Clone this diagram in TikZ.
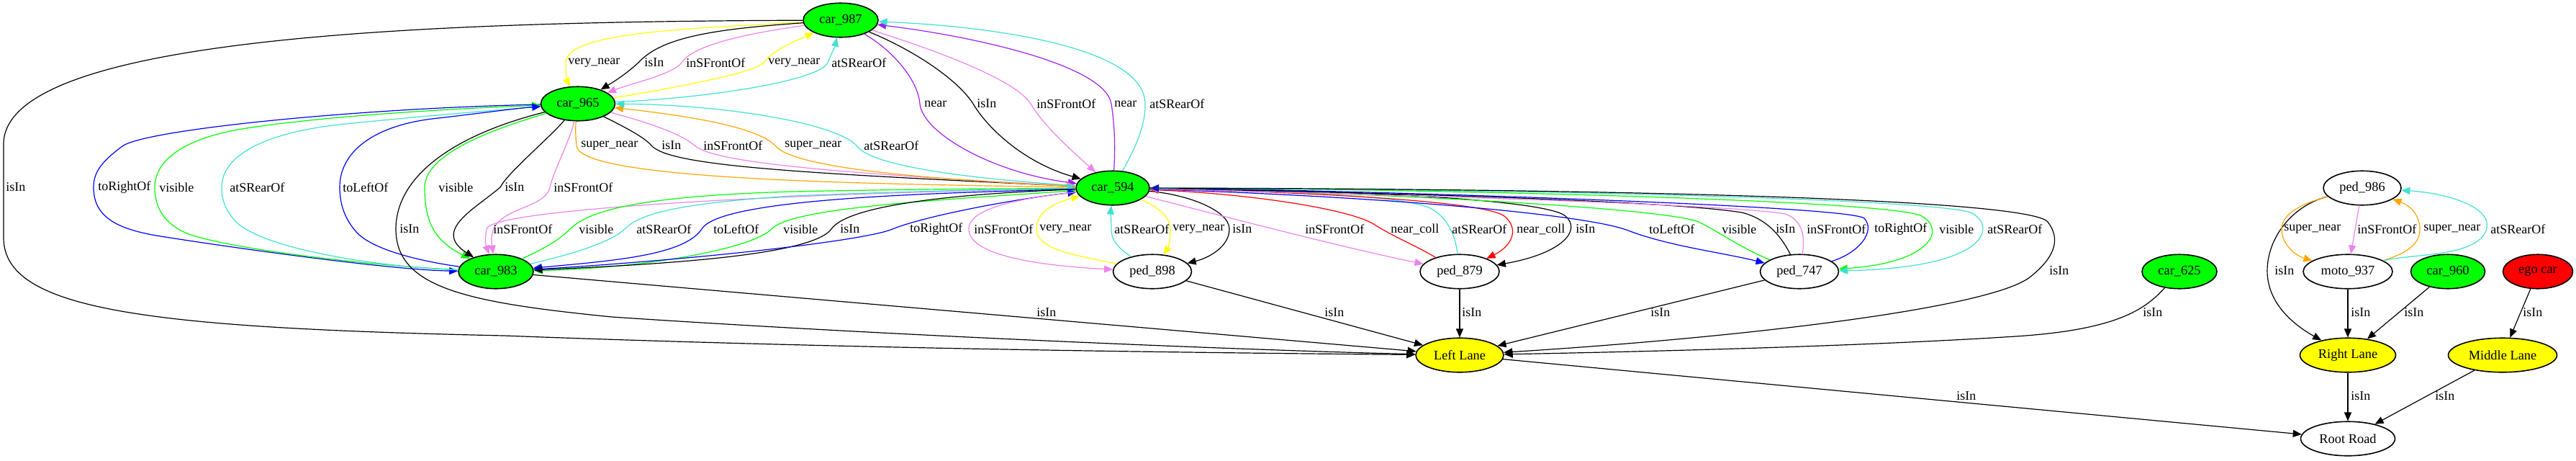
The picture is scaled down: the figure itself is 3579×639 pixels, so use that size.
\documentclass[tikz,border=0pt]{standalone}
\usepackage{fontspec}
\setmainfont{Liberation Serif}
\usetikzlibrary{shapes.geometric,arrows.meta}
\definecolor{gvgreen}{HTML}{00FF00}
\definecolor{gvyellow}{HTML}{FFFF00}
\definecolor{gvred}{HTML}{FF0000}
\definecolor{gvviolet}{HTML}{EE82EE}
\definecolor{gvpurple}{HTML}{A020F0}
\definecolor{gvturq}{HTML}{40E0D0}
\definecolor{gvorange}{HTML}{FFA500}
\definecolor{gvblue}{HTML}{0000FF}
\begin{document}
\begin{tikzpicture}[x=0.5pt,y=-0.5pt,
  nd/.style={ellipse,draw,line width=0.8pt,inner sep=0pt,minimum height=23.75pt,font=\fontsize{9.2}{10}\selectfont},
  lbl/.style={anchor=west,inner sep=0pt,font=\fontsize{9}{10}\selectfont},
  e/.style={line width=0.6pt,-{Triangle[length=6pt,width=5pt]}}]
\useasboundingbox (0,0) rectangle (3579,639);
% nodes
\node[nd,fill=gvgreen,minimum width=52pt] (c987) at (1168,28) {car\_987};
\node[nd,fill=gvgreen,minimum width=51.5pt] (c965) at (803,144) {car\_965};
\node[nd,fill=gvgreen,minimum width=52pt] (c983) at (689,377) {car\_983};
\node[nd,fill=gvgreen,minimum width=51pt] (c594) at (1546,261) {car\_594};
\node[nd,minimum width=54.5pt] (p898) at (1601,377) {ped\_898};
\node[nd,minimum width=55pt] (p879) at (2028,377) {ped\_879};
\node[nd,minimum width=54.5pt] (p747) at (2500,377) {ped\_747};
\node[nd,fill=gvyellow,minimum width=61pt] (LL) at (2028,493) {Left Lane};
\node[nd,fill=gvgreen,minimum width=52pt] (c625) at (3028,377) {car\_625};
\node[nd,minimum width=54pt] (p986) at (3282,261) {ped\_986};
\node[nd,minimum width=62pt] (m937) at (3262,377) {moto\_937};
\node[nd,fill=gvgreen,minimum width=51.5pt] (c960) at (3401,377) {car\_960};
\node[nd,fill=gvred,minimum width=48.5pt] (ego) at (3526,377) {ego car};
\node[nd,fill=gvyellow,minimum width=66.5pt] (RL) at (3262,493) {Right Lane};
\node[nd,fill=gvyellow,minimum width=75.5pt] (ML) at (3477,493) {Middle Lane};
\node[nd,minimum width=65.5pt] (RR) at (3262,609) {Root Road};
% row 87
\draw[e,gvyellow] (c987) .. controls (950,40) and (786,45) .. (786,87) .. controls (786,100) and (787,110) .. (c965);
\draw[e] (c987) .. controls (1000,40) and (920,50) .. (887,87) .. controls (865,107) and (845,118) .. (c965);
\draw[e,gvviolet] (c987) .. controls (1050,45) and (965,60) .. (947,87) .. controls (935,103) and (880,115) .. (c965);
\draw[e,gvyellow] (c965) .. controls (950,120) and (1050,100) .. (1061,87) .. controls (1075,68) and (1110,55) .. (c987);
\draw[e,gvturq] (c965) .. controls (1000,135) and (1140,110) .. (1150,87) .. controls (1155,75) and (1160,65) .. (c987);
\node[lbl] (l1) at (789,87) {very\_near};
\node[lbl] (l2) at (895,87) {isIn};
\node[lbl] (l3) at (953,87) {inSFrontOf};
\node[lbl] (l4) at (1067,87) {very\_near};
\node[lbl] (l5) at (1155,87) {atSRearOf};
% row 144
\draw[e,gvpurple] (c987) .. controls (1240,70) and (1275,110) .. (1278,144) .. controls (1282,185) and (1380,240) .. (c594);
\draw[e] (c987) .. controls (1270,70) and (1330,110) .. (1352,144) .. controls (1370,175) and (1420,225) .. (c594);
\draw[e,gvviolet] (c987) .. controls (1300,70) and (1410,110) .. (1432,144) .. controls (1450,175) and (1490,210) .. (c594);
\draw[e,gvpurple] (c594) .. controls (1550,200) and (1548,170) .. (1544,144) .. controls (1535,90) and (1350,50) .. (c987);
\draw[e,gvturq] (c594) .. controls (1575,210) and (1592,175) .. (1591,144) .. controls (1590,60) and (1350,35) .. (c987);
\node[lbl] (l6) at (1284,144) {near};
\node[lbl] (l7) at (1357,144) {isIn};
\node[lbl] (l8) at (1440,144) {inSFrontOf};
\node[lbl] (l9) at (1548,144) {near};
\node[lbl] (l10) at (1597,144) {atSRearOf};
% row 202
\draw[e,gvorange] (c965) .. controls (799,180) and (800,190) .. (801,202) .. controls (803,250) and (1200,255) .. (c594);
\draw[e] (c965) .. controls (865,175) and (895,190) .. (905,202) .. controls (930,230) and (1100,240) .. (c594);
\draw[e,gvviolet] (c965) .. controls (900,170) and (945,185) .. (965,202) .. controls (990,225) and (1150,240) .. (c594);
\draw[e,gvorange] (c594) .. controls (1200,245) and (1095,225) .. (1077,202) .. controls (1050,175) and (950,160) .. (c965);
\draw[e,gvturq] (c594) .. controls (1300,245) and (1205,225) .. (1190,202) .. controls (1160,170) and (1000,145) .. (c965);
\node[lbl] (l11) at (807,202) {super\_near};
\node[lbl] (l12) at (919,202) {isIn};
\node[lbl] (l13) at (977,202) {inSFrontOf};
\node[lbl] (l14) at (1090,202) {super\_near};
\node[lbl] (l15) at (1200,202) {atSRearOf};
% row 260
\draw[e] (c987) .. controls (600,30) and (5,50) .. (5,200) -- (5,330) .. controls (5,430) and (200,455) .. (700,466) .. controls (1200,485) and (1700,490) .. (LL);
\draw[e,gvblue] (c965) .. controls (500,150) and (200,180) .. (170,203) .. controls (140,225) and (130,240) .. (130,260) .. controls (130,300) and (160,318) .. (223,328) .. controls (350,348) and (550,375) .. (c983);
\draw[e,gvgreen] (c983) .. controls (500,368) and (320,345) .. (262,325) .. controls (230,312) and (215,290) .. (215,260) .. controls (215,225) and (250,195) .. (330,180) .. controls (450,160) and (650,150) .. (c965);
\draw[e,gvturq] (c983) .. controls (520,370) and (360,345) .. (325,305) .. controls (313,290) and (308,278) .. (308,260) .. controls (308,215) and (370,183) .. (480,172) .. controls (600,160) and (700,152) .. (c965);
\draw[e,gvblue] (c983) .. controls (600,365) and (520,350) .. (495,322) .. controls (480,305) and (472,285) .. (472,260) .. controls (472,210) and (520,175) .. (600,165) .. controls (670,157) and (720,150) .. (c965);
\draw[e,gvgreen] (c965) .. controls (700,175) and (590,210) .. (590,260) .. controls (590,310) and (605,335) .. (c983);
\draw[e] (c965) .. controls (765,190) and (705,240) .. (695,260) .. controls (660,290) and (600,320) .. (c983);
\draw[e,gvviolet] (c965) .. controls (792,195) and (770,235) .. (764,260) .. controls (755,295) and (675,285) .. (c983);
\draw[e] (c965) .. controls (620,190) and (550,250) .. (550,318) .. controls (550,400) and (650,420) .. (850,440) .. controls (1300,470) and (1800,488) .. (LL);
\node[lbl] (l16) at (8,260) {isIn};
\node[lbl] (l17) at (136,260) {toRightOf};
\node[lbl] (l18) at (221,260) {visible};
\node[lbl] (l19) at (319,260) {atSRearOf};
\node[lbl] (l20) at (476,260) {toLeftOf};
\node[lbl] (l21) at (609,260) {visible};
\node[lbl] (l22) at (701,260) {isIn};
\node[lbl] (l23) at (769,260) {inSFrontOf};
% row 318 (car_594 - car_983)
\draw[e,gvviolet] (c594) .. controls (1100,268) and (680,290) .. (676,318) .. controls (674,330) and (674,338) .. (c983);
\draw[e,gvgreen] (c983) .. controls (755,345) and (775,335) .. (792,318) .. controls (820,290) and (900,272) .. (1100,266) .. controls (1300,262) and (1400,262) .. (c594);
\draw[e,gvturq] (c983) .. controls (800,352) and (850,335) .. (868,318) .. controls (890,295) and (950,282) .. (1100,272) .. controls (1300,264) and (1400,263) .. (c594);
\draw[e,gvblue] (c594) .. controls (1300,268) and (1000,275) .. (975,318) .. controls (950,355) and (850,362) .. (c983);
\draw[e,gvgreen] (c594) .. controls (1300,278) and (1100,288) .. (1072,318) .. controls (1045,345) and (900,372) .. (c983);
\draw[e] (c594) .. controls (1350,268) and (1180,282) .. (1155,318) .. controls (1130,352) and (950,366) .. (c983);
\draw[e,gvblue] (c983) .. controls (950,362) and (1200,335) .. (1240,318) .. controls (1290,298) and (1420,275) .. (c594);
\node[lbl] (l24) at (555,318) {isIn};
\node[lbl] (l25) at (685,318) {inSFrontOf};
\node[lbl] (l26) at (804,318) {visible};
\node[lbl] (l27) at (884,318) {atSRearOf};
\node[lbl] (l28) at (991,318) {toLeftOf};
\node[lbl] (l29) at (1088,318) {visible};
\node[lbl] (l30) at (1167,318) {isIn};
\node[lbl] (l31) at (1264,318) {toRightOf};
% car_594 - peds
\draw[e,gvviolet] (c594) .. controls (1420,275) and (1346,288) .. (1346,318) .. controls (1346,352) and (1430,368) .. (p898);
\draw[e,gvyellow] (p898) .. controls (1500,355) and (1440,348) .. (1440,318) .. controls (1440,292) and (1470,280) .. (c594);
\draw[e,gvturq] (p898) .. controls (1555,345) and (1544,335) .. (1544,318) .. controls (1544,305) and (1543,295) .. (c594);
\draw[e,gvyellow] (c594) .. controls (1605,285) and (1626,300) .. (1626,318) .. controls (1626,332) and (1624,342) .. (p898);
\draw[e] (c594) .. controls (1650,270) and (1708,292) .. (1708,318) .. controls (1708,342) and (1680,358) .. (p898);
\draw[e,gvviolet] (c594) .. controls (1700,300) and (1850,340) .. (p879);
\draw[e,gvred] (p879) .. controls (1965,340) and (1935,328) .. (1910,312) .. controls (1880,292) and (1750,270) .. (c594);
\draw[e,gvturq] (p879) .. controls (2023,335) and (2015,302) .. (1985,288) .. controls (1940,270) and (1760,265) .. (c594);
\draw[e,gvred] (c594) .. controls (1800,266) and (2060,278) .. (2090,300) .. controls (2112,318) and (2100,342) .. (p879);
\draw[e] (c594) .. controls (1900,264) and (2150,278) .. (2175,300) .. controls (2198,320) and (2170,352) .. (p879);
\draw[e,gvblue] (c594) .. controls (1900,272) and (2200,296) .. (2262,320) .. controls (2320,342) and (2390,350) .. (p747);
\draw[e,gvgreen] (p747) .. controls (2420,345) and (2385,320) .. (2360,308) .. controls (2300,285) and (1800,264) .. (c594);
\draw[e] (p747) .. controls (2478,335) and (2460,305) .. (2420,295) .. controls (2300,276) and (1800,265) .. (c594);
\draw[e,gvviolet] (p747) .. controls (2508,330) and (2505,305) .. (2480,297) .. controls (2400,282) and (1800,267) .. (c594);
\draw[e,gvblue] (p747) .. controls (2585,350) and (2606,320) .. (2590,303) .. controls (2565,284) and (1800,262) .. (c594);
\draw[e,gvgreen] (c594) .. controls (2000,262) and (2630,278) .. (2670,300) .. controls (2705,320) and (2680,365) .. (p747);
\draw[e,gvturq] (c594) .. controls (2100,262) and (2700,276) .. (2740,296) .. controls (2775,316) and (2760,372) .. (p747);
\draw[e] (c594) .. controls (2300,262) and (2820,278) .. (2845,308) .. controls (2862,330) and (2858,355) .. (2820,385) .. controls (2760,430) and (2400,470) .. (LL);
\node[lbl] (l32) at (1353,318) {inSFrontOf};
\node[lbl] (l33) at (1444,318) {very\_near};
\node[lbl] (l34) at (1548,318) {atSRearOf};
\node[lbl] (l35) at (1629,318) {very\_near};
\node[lbl] (l36) at (1712,318) {isIn};
\node[lbl] (l37) at (1813,318) {inSFrontOf};
\node[lbl] (l38) at (1932,318) {near\_coll};
\node[lbl] (l39) at (2017,318) {atSRearOf};
\node[lbl] (l40) at (2107,318) {near\_coll};
\node[lbl] (l41) at (2189,318) {isIn};
\node[lbl] (l42) at (2291,318) {toLeftOf};
\node[lbl] (l43) at (2392,318) {visible};
\node[lbl] (l44) at (2467,318) {isIn};
\node[lbl] (l45) at (2510,318) {inSFrontOf};
\node[lbl] (l46) at (2604,318) {toRightOf};
\node[lbl] (l47) at (2694,318) {visible};
\node[lbl] (l48) at (2761,318) {atSRearOf};
\node[lbl] (l49) at (2847,376) {isIn};
% to lanes
\draw[e] (c983) -- (LL);
\draw[e] (p898) -- (LL);
\draw[e] (p879) -- (LL);
\draw[e] (p747) -- (LL);
\draw[e] (c625) .. controls (2980,430) and (2940,458) .. (2800,467) .. controls (2600,480) and (2300,488) .. (LL);
\node[lbl] (l50) at (1440,434) {isIn};
\node[lbl] (l51) at (1840,434) {isIn};
\node[lbl] (l52) at (2031,434) {isIn};
\node[lbl] (l53) at (2293,434) {isIn};
\node[lbl] (l54) at (2977,434) {isIn};
% right cluster
\draw[e] (p986) .. controls (3185,285) and (3150,330) .. (3150,376) .. controls (3150,420) and (3185,450) .. (RL);
\draw[e,gvorange] (p986) .. controls (3195,283) and (3170,298) .. (3170,318) .. controls (3170,340) and (3190,355) .. (m937);
\draw[e,gvviolet] (p986) -- (m937);
\draw[e,gvorange] (m937) .. controls (3342,352) and (3362,340) .. (3362,318) .. controls (3362,300) and (3350,286) .. (p986);
\draw[e,gvturq] (m937) .. controls (3345,352) and (3440,358) .. (3454,320) .. controls (3466,288) and (3400,268) .. (p986);
\draw[e] (m937) -- (RL);
\draw[e] (c960) -- (RL);
\draw[e] (ego) -- (ML);
\draw[e] (LL) -- (RR);
\draw[e] (RL) -- (RR);
\draw[e] (ML) -- (RR);
\node[lbl] (l55) at (3160,376) {isIn};
\node[lbl] (l56) at (3173,318) {super\_near};
\node[lbl] (l57) at (3275,318) {inSFrontOf};
\node[lbl] (l58) at (3367,318) {super\_near};
\node[lbl] (l59) at (3460,318) {atSRearOf};
\node[lbl] (l60) at (3266,434) {isIn};
\node[lbl] (l61) at (3340,434) {isIn};
\node[lbl] (l62) at (3505,434) {isIn};
\node[lbl] (l63) at (2718,550) {isIn};
\node[lbl] (l64) at (3266,550) {isIn};
\node[lbl] (l65) at (3383,550) {isIn};
\end{tikzpicture}
\end{document}
